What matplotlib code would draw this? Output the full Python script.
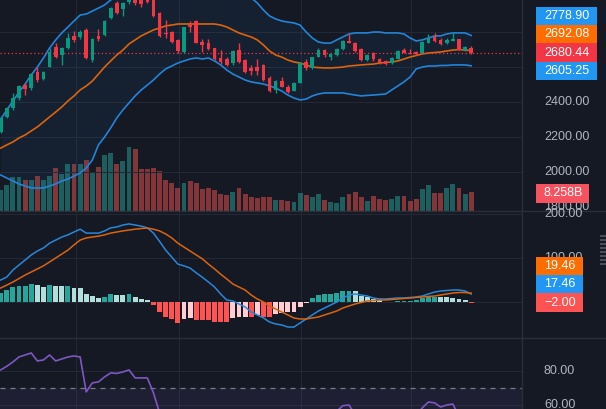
import matplotlib
matplotlib.use("Agg")
import matplotlib.pyplot as plt
from matplotlib.patches import Rectangle
from matplotlib.lines import Line2D
import numpy as np

# ---------------- data ----------------
opens = [2227, 2313, 2364, 2421, 2495, 2478, 2570, 2530, 2598, 2713,
         2667, 2707, 2776, 2770, 2810, 2638, 2776, 2781, 2878, 2964,
         2930, 2970, 3040, 3010, 2981, 2992, 2907, 2793, 2798, 2753,
         2684, 2838, 2861, 2741, 2735, 2707, 2650, 2644, 2621, 2695,
         2638, 2593, 2598, 2610, 2535, 2467, 2518, 2484, 2461, 2507,
         2627, 2593, 2655, 2695, 2655, 2667, 2701, 2747, 2735, 2701,
         2638, 2678, 2644, 2633, 2621, 2644, 2695, 2678, 2684, 2678,
         2735, 2770, 2753, 2735, 2747, 2758, 2695, 2707]
highs = [2313, 2370, 2450, 2495, 2507, 2564, 2598, 2575, 2707, 2735,
         2713, 2793, 2804, 2810, 2821, 2764, 2815, 2867, 2941, 2975,
         2970, 3030, 3050, 3030, 3000, 3000, 2912, 2867, 2804, 2758,
         2827, 2861, 2867, 2758, 2758, 2707, 2695, 2655, 2695, 2735,
         2644, 2610, 2644, 2615, 2547, 2524, 2541, 2495, 2512, 2627,
         2644, 2655, 2707, 2701, 2678, 2707, 2753, 2787, 2741, 2707,
         2673, 2684, 2650, 2638, 2655, 2695, 2707, 2701, 2690, 2747,
         2787, 2793, 2764, 2764, 2793, 2758, 2718, 2718]
lows = [2221, 2307, 2353, 2410, 2438, 2467, 2512, 2524, 2598, 2650,
        2610, 2701, 2741, 2758, 2644, 2627, 2747, 2776, 2872, 2901,
        2890, 2960, 2953, 2941, 2964, 2884, 2770, 2764, 2735, 2678,
        2678, 2798, 2735, 2684, 2695, 2638, 2615, 2604, 2610, 2621,
        2564, 2553, 2553, 2518, 2455, 2450, 2484, 2450, 2461, 2507,
        2581, 2587, 2655, 2655, 2638, 2661, 2695, 2735, 2684, 2633,
        2633, 2633, 2615, 2610, 2615, 2644, 2678, 2673, 2667, 2678,
        2735, 2741, 2724, 2730, 2747, 2695, 2690, 2673]
closes = [2307, 2364, 2421, 2490, 2473, 2558, 2524, 2570, 2684, 2655,
          2707, 2764, 2753, 2798, 2650, 2758, 2758, 2861, 2935, 2907,
          2964, 3010, 2964, 2958, 2970, 2890, 2776, 2787, 2741, 2690,
          2827, 2827, 2735, 2724, 2701, 2644, 2627, 2610, 2690, 2627,
          2570, 2575, 2575, 2524, 2461, 2518, 2484, 2455, 2507, 2621,
          2593, 2655, 2695, 2667, 2673, 2701, 2747, 2735, 2690, 2638,
          2667, 2644, 2621, 2615, 2650, 2690, 2678, 2675, 2673, 2741,
          2764, 2747, 2730, 2753, 2758, 2695, 2713, 2680.44]
volume_b = [9.2, 11.4, 14.9, 14.9, 13.6, 13.6, 15.4, 13.6, 15.4, 18.9,
            16.2, 20.7, 20.7, 20.7, 22.4, 17.1, 19.3, 24.6, 25.5, 20.7,
            22.0, 28.2, 27.3, 18.5, 18.5, 18.9, 17.6, 13.6, 12.3, 10.0,
            12.3, 13.1, 12.3, 9.6, 10.0, 9.2, 7.4, 6.9, 8.3, 10.0,
            7.4, 6.1, 5.6, 6.1, 6.1, 4.7, 4.7, 4.3, 3.8, 7.8,
            6.9, 6.1, 7.4, 4.7, 3.8, 3.4, 6.1, 7.4, 8.3, 6.1,
            4.3, 6.5, 5.2, 4.7, 5.2, 6.5, 6.5, 4.3, 5.2, 9.6,
            11.4, 7.8, 7.8, 10.0, 11.8, 10.0, 7.4, 8.258]

bb_upper = [2301, 2353, 2404, 2455, 2501, 2553, 2598, 2650, 2707, 2753,
            2793, 2827, 2861, 2895, 2901, 2918, 2935, 2953, 2981, 3004,
            3027, 3050, 3073, 3090, 3107, 3118, 3124, 3130, 3130, 3124,
            3118, 3113, 3107, 3095, 3084, 3073, 3061, 3050, 3038, 3021,
            3004, 2993, 2964, 2924, 2890, 2873, 2861, 2855, 2850, 2838,
            2798, 2764, 2741, 2735, 2735, 2753, 2770, 2787, 2793, 2793,
            2793, 2798, 2798, 2793, 2793, 2793, 2787, 2764, 2747, 2753,
            2764, 2776, 2776, 2787, 2793, 2793, 2793, 2778.90]
bb_basis = [2135, 2153, 2170, 2193, 2210, 2233, 2256, 2284, 2313, 2341,
            2370, 2404, 2433, 2467, 2490, 2518, 2558, 2598, 2633, 2667,
            2695, 2730, 2753, 2776, 2793, 2810, 2821, 2833, 2838, 2844,
            2844, 2844, 2844, 2844, 2844, 2844, 2838, 2827, 2810, 2793,
            2781, 2770, 2753, 2724, 2690, 2667, 2655, 2638, 2627, 2621,
            2610, 2598, 2595, 2593, 2593, 2595, 2598, 2604, 2607, 2610,
            2613, 2615, 2621, 2624, 2627, 2633, 2644, 2655, 2664, 2673,
            2678, 2681, 2684, 2690, 2695, 2698, 2695, 2692.08]
bb_lower = [1981, 1964, 1947, 1930, 1918, 1907, 1907, 1907, 1918, 1930,
            1947, 1958, 1975, 1993, 2021, 2067, 2153, 2198, 2250, 2307,
            2353, 2393, 2433, 2467, 2495, 2524, 2558, 2587, 2604, 2621,
            2633, 2644, 2650, 2644, 2650, 2633, 2610, 2581, 2558, 2541,
            2524, 2513, 2507, 2501, 2490, 2478, 2461, 2438, 2421, 2410,
            2415, 2433, 2444, 2450, 2450, 2450, 2450, 2444, 2438, 2433,
            2436, 2438, 2441, 2444, 2467, 2490, 2513, 2541, 2587, 2598,
            2604, 2604, 2607, 2607, 2610, 2610, 2610, 2605.25]

macd_line = [49.7, 56.5, 72.5, 84, 95.4, 107, 116, 123, 134, 141,
             148, 153, 159.5, 166, 157, 157, 157, 162, 169, 171,
             175.5, 178, 175.5, 173, 169, 157, 138, 118, 102, 86,
             82, 77, 66, 56, 45, 33.6, 17.6, 3.9, 1.6, -5.3,
             -12, -23.6, -30.4, -37.3, -46.5, -51, -53.3, -58, -58, -48.7,
             -39.6, -30.4, -21.3, -14.4, -7.6, -0.7, 8.5, 15.3, 17.6, 15.3,
             13, 8.5, 6.2, 6.2, 7.3, 8.5, 8.5, 9.6, 10.8, 13,
             17.6, 22, 24.5, 25.6, 26.8, 26.8, 24.5, 17.46]
signal_line = [31.4, 38, 45, 53, 61, 68, 75, 82, 91, 100,
               109, 118, 130, 141, 146, 148, 150, 153, 157, 159.5,
               162, 164, 166, 167.5, 168.6, 166, 162, 155, 146, 134,
               125, 116, 107, 98, 86, 75, 63, 52, 40.5, 33.6,
               26.8, 15.3, 6.2, -0.7, -9.8, -16.7, -23.6, -30.4, -37.3, -39.6,
               -39.6, -37.3, -35, -30.4, -25.9, -21.3, -14.4, -9.8, -5.3, -1.8,
               1.6, 2.7, 3.9, 3.9, 5, 6.2, 7.3, 8.5, 9.6, 10.8,
               11.9, 13, 15.3, 17.6, 19.9, 21, 21, 19.46]
macd_hist = [19, 26.7, 34.3, 36.6, 36.6, 40.4, 38.1, 34.3, 38.1, 35.9,
             35.9, 35.9, 30.5, 30.5, 16.8, 13.7, 9.2, 11.4, 16.8, 15.3,
             15.3, 16.8, 11.4, 6.1, 3.8, -7.6, -22.9, -34.3, -40.4, -48,
             -40.4, -38.1, -42, -42, -42, -45.8, -45.8, -45.8, -38.1, -34.3,
             -34, -36, -30.5, -34, -34, -28, -26.7, -23, -23, -11.4,
             -3.8, 7.6, 15.3, 17.5, 17.5, 19, 25, 25, 23.6, 13.7,
             9.9, 6.1, 3.8, -1.5, -1.5, 2.3, 2.3, 2.3, 3.8, 7.6,
             9.9, 9.9, 9.9, 9.9, 7.6, 5.3, 3.8, -2.00]
# T grow above, L fall above, P rise below, R fall below
hist_kind = ("TTTTTT" + "LLTLLTLLLLLTTLLTLLL" + "RRRRR" + "PP" + "RRRRRR" + "PP"
             + "PRPRRPPPPPP" + "TTTTTTT" + "LLLLL" + "RR" + "TTTTTTT" + "LLLLL" + "R")

rsi = [80.8, 83, 85.6, 88.6, 89.8, 91, 86.2, 86.8, 89.8, 86.2,
       87.4, 88.6, 89.2, 88.6, 67.6, 73, 73.6, 76.6, 79, 78.7,
       79.6, 80.8, 76, 76, 76, 67, 55, 54, 50, 45,
       54, 53, 47, 46, 44, 40, 38, 36, 44, 40,
       36, 35, 36, 31, 27, 33, 31, 29, 35, 47,
       45, 51, 55, 52, 53, 56, 59.3, 59.7, 54, 48,
       51, 48, 45, 44, 48, 54, 53, 53, 53, 58,
       61.5, 61, 58.5, 59.7, 60.3, 53, 55, 52]

month_lines = [12.27, 29.18, 49.15, 67.15]
price_grid = [2800, 2600, 2400, 2200, 2000]
price_ticks = [3000, 2400, 2200, 2000, 1800]   # 2800 / 2600 sit under the value tags
macd_grid = [200, 100, 0]
macd_ticks = [200, 100]
rsi_ticks = [80, 60]

# ---------------- style ----------------
BG = "#151924"
GRID = "#242836"
SEP = "#2a2e39"
TXT = "#b2b5be"
UP = "#089981"
DOWN = "#f23645"
BLUE = "#2196f3"
ORANGE = "#ff6d00"
HIST_COL = {"T": "#26a69a", "L": "#b2dfdb", "P": "#ffcdd2", "R": "#ff5252"}
plt.rcParams["font.family"] = ["Liberation Sans", "DejaVu Sans"]

W, H = 606, 409
fig = plt.figure(figsize=(W / 100, H / 100), dpi=100, facecolor=BG)


def rect(x0, y0, x1, y1):
    return [x0 / W, 1 - y1 / H, (x1 - x0) / W, (y1 - y0) / H]


x = np.arange(len(closes))
xlim = (-0.7 / 6.11, (522 - 0.7) / 6.11)

ax_vol = fig.add_axes(rect(0, 0, 522, 211), facecolor=BG)
ax = fig.add_axes(rect(0, 0, 522, 211), facecolor="none")
ax_macd = fig.add_axes(rect(0, 211, 522, 338), facecolor=BG)
ax_rsi = fig.add_axes(rect(0, 338, 522, 409), facecolor=BG)
ax.set_zorder(2)

for a in (ax_vol, ax, ax_macd, ax_rsi):
    a.set_xlim(*xlim)
    a.set_xticks([])
    a.set_yticks([])
    for s in a.spines.values():
        s.set_visible(False)

for a in (ax_vol, ax_macd, ax_rsi):
    for m in month_lines:
        a.axvline(m, color=GRID, lw=0.8, zorder=0)

ax.set_ylim(1775.5, 2981.1)
ax_vol.set_ylim(0, 93.4)
ax_macd.set_ylim(-83.1, 207.6)
ax_rsi.set_ylim(57.3, 100)

for p in price_grid:
    ax.axhline(p, color=GRID, lw=0.8, zorder=0)
for v in macd_grid:
    ax_macd.axhline(v, color=GRID, lw=0.8, zorder=0)
for v in rsi_ticks:
    ax_rsi.axhline(v, color=GRID, lw=0.8, zorder=0)

# volume
vcols = [UP if c >= o else DOWN for o, c in zip(opens, closes)]
vcols_v = ["#26a69a" if c >= o else "#ef5350" for o, c in zip(opens, closes)]
ax_vol.bar(x, volume_b, width=0.8, color=vcols_v, alpha=0.5, lw=0, zorder=2)

# bollinger bands
ax.fill_between(x, bb_lower, bb_upper, color=BLUE, alpha=0.06, lw=0, zorder=1)
ax.plot(x, bb_upper, color="#2384d8", lw=1.2, zorder=3)
ax.plot(x, bb_lower, color="#2384d8", lw=1.2, zorder=3)
ax.plot(x, bb_basis, color="#dc640f", lw=1.2, zorder=3)

# candles
o = np.array(opens, float)
c = np.array(closes, float)
ax.vlines(x, lows, highs, colors=vcols, lw=1, zorder=4)
body_h = np.maximum(np.abs(c - o), 2.5)
ax.bar(x, body_h, bottom=np.minimum(o, c), width=0.6, color=vcols, lw=0, zorder=5)
ax.axhline(closes[-1], color=DOWN, lw=0.9, ls=(0, (1, 2)), zorder=3)

# macd
ax_macd.bar(x, macd_hist, width=0.8, color=[HIST_COL[k] for k in hist_kind],
            lw=0, zorder=2)
ax_macd.plot(x, macd_line, color="#2a87d8", lw=1.1, zorder=3)
ax_macd.plot(x, signal_line, color="#dc640f", lw=1.1, zorder=3)

# rsi
ax_rsi.axhspan(30, 70, color="#7e57c2", alpha=0.1, lw=0, zorder=1)
ax_rsi.axhline(70, color="#787b86", lw=0.9, ls=(0, (4, 4)), zorder=2)
ax_rsi.plot(x, rsi, color="#7e57c2", lw=1.2, zorder=3)

# pane separators
for yy in (211, 338):
    fig.add_artist(Line2D([0, 1], [1 - yy / H] * 2, color=SEP, lw=1, transform=fig.transFigure))
fig.add_artist(Line2D([522 / W] * 2, [0, 1], color=SEP, lw=1, transform=fig.transFigure))


def py(a, v):
    return H - a.transData.transform((0, v))[1]


def tick(a, v):
    fig.text(544 / W, 1 - py(a, v) / H, f"{v:.2f}", color=TXT, fontsize=9,
             ha="left", va="center", zorder=3)


for p in price_ticks:
    tick(ax, p)
for v in macd_ticks:
    tick(ax_macd, v)
for v in rsi_ticks:
    tick(ax_rsi, v)


def tag(y, text, color, width):
    fig.add_artist(Rectangle((536 / W, 1 - (y + 9.2) / H), width / W, 18.4 / H,
                             transform=fig.transFigure, color=color, lw=0, zorder=5))
    fig.text(544 / W, 1 - y / H, text, color="white", fontsize=9,
             ha="left", va="center", zorder=6)


def stack(a, items, anchor, width):
    # items sorted from highest value to lowest; anchor keeps its own place
    ys = [py(a, v) for v, _, _ in items]
    pos = list(ys)
    for i in range(anchor - 1, -1, -1):
        pos[i] = min(ys[i], pos[i + 1] - 18.4)
    for i in range(anchor + 1, len(items)):
        pos[i] = max(ys[i], pos[i - 1] + 18.4)
    for (v, t, col), yy in zip(items, pos):
        tag(yy, t, col, width)


stack(ax, [(bb_upper[-1], "2778.90", BLUE), (bb_basis[-1], "2692.08", ORANGE),
           (closes[-1], "2680.44", DOWN), (bb_lower[-1], "2605.25", BLUE)], 2, 61)
tag(py(ax_vol, volume_b[-1]) + 1, "8.258B", "#f7525f", 53)
stack(ax_macd, [(signal_line[-1], "19.46", ORANGE), (macd_line[-1], "17.46", BLUE),
                (macd_hist[-1], "\u22122.00", "#ff5252")], 2, 47)

# pane resize handle
for j in range(8):
    yy = 1 - (236 + 4 * j) / H
    for xx in (600.5, 603.5):
        fig.add_artist(Line2D([xx / W, (xx + 1.5) / W], [yy, yy], color="#5d606b",
                              lw=1.2, transform=fig.transFigure))

fig.savefig("out.png", dpi=100, facecolor=BG)
